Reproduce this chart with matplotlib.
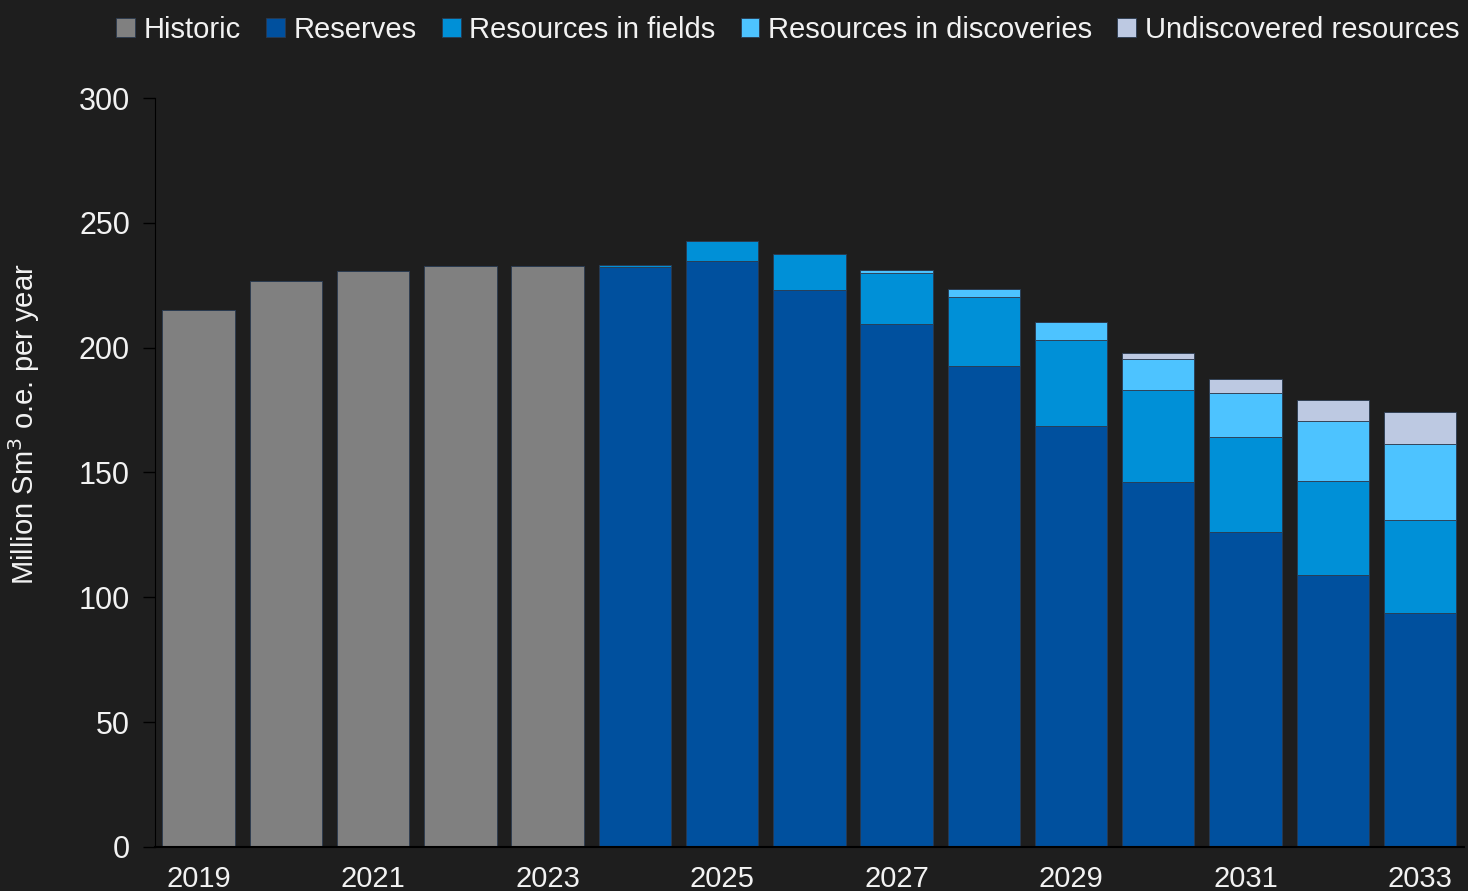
"""Petroleum production forecast — stacked bars on dark background."""

import matplotlib
matplotlib.use("Agg")
import matplotlib.pyplot as plt
import numpy as np

# ── Data ──
years = [2019, 2020, 2021, 2022, 2023, 2024, 2025, 2026, 2027, 2028,
         2029, 2030, 2031, 2032, 2033]
historic = [215.1, 226.7, 230.7, 232.7, 232.7, 0, 0, 0, 0, 0, 0, 0, 0, 0, 0]
reserves = [0, 0, 0, 0, 0, 232.3, 234.7, 223.1, 209.3, 192.6,
            168.6, 146.1, 126.0, 108.9, 93.7]
fields = [0, 0, 0, 0, 0, 0.8, 8.0, 14.4, 20.5, 27.7,
          34.4, 36.9, 38.3, 37.8, 37.3]
discoveries = [0, 0, 0, 0, 0, 0, 0, 0, 1.4, 3.2,
               7.1, 12.3, 17.6, 24.0, 30.6]
undiscovered = [0, 0, 0, 0, 0, 0, 0, 0, 0, 0,
                0, 2.4, 5.4, 8.5, 12.7]

series = [
    ("Historic", historic, "#808080"),
    ("Reserves", reserves, "#00509E"),
    ("Resources in fields", fields, "#0090D7"),
    ("Resources in discoveries", discoveries, "#4DC3FF"),
    ("Undiscovered resources", undiscovered, "#BDC9E2"),
]

# ── Style ──
BG = "#1E1E1E"
FG = "#F2F2F2"
plt.rcParams.update({
    "font.family": ["Liberation Sans", "DejaVu Sans"],
    "figure.facecolor": BG,
    "axes.facecolor": BG,
})

fig = plt.figure(figsize=(14.68, 8.91), dpi=100)
ax = fig.add_axes([0.1056, 0.0494, 0.8914, 0.8406])

x = np.arange(len(years))
bottom = np.zeros(len(years))
handles = []
for name, vals, color in series:
    vals = np.array(vals, dtype=float)
    b = ax.bar(x, vals, 0.83, bottom=bottom, color=color, label=name,
               edgecolor="#2a3a50", linewidth=0.6)
    handles.append(b)
    bottom += vals

ax.set_xlim(-0.5, 14.5)
ax.set_ylim(0, 300)
ax.set_yticks(range(0, 301, 50))
ax.set_xticks(x[::2])
ax.set_xticklabels([str(y) for y in years[::2]])

ax.tick_params(axis="y", colors="#000000", labelcolor=FG, labelsize=22,
               length=9, width=1, pad=9)
ax.tick_params(axis="x", length=0, labelcolor=FG, labelsize=21, pad=13)

for s in ["top", "right"]:
    ax.spines[s].set_visible(False)
ax.spines["left"].set_color("#000000")
ax.spines["bottom"].set_color("#000000")
ax.spines["bottom"].set_linewidth(1.5)

ax.set_ylabel("Million Sm$^3$ o.e. per year", color=FG, fontsize=21)
ax.yaxis.set_label_coords(-0.086, 0.565)

leg = fig.legend(handles=handles, loc="upper right", bbox_to_anchor=(1.012, 1.012),
                 ncol=5, frameon=False, fontsize=21, handlelength=0.65,
                 handleheight=0.65, handletextpad=0.3, columnspacing=0.85)
for t in leg.get_texts():
    t.set_color(FG)

fig.savefig("out.png", dpi=100, facecolor=BG)
plt.close(fig)
